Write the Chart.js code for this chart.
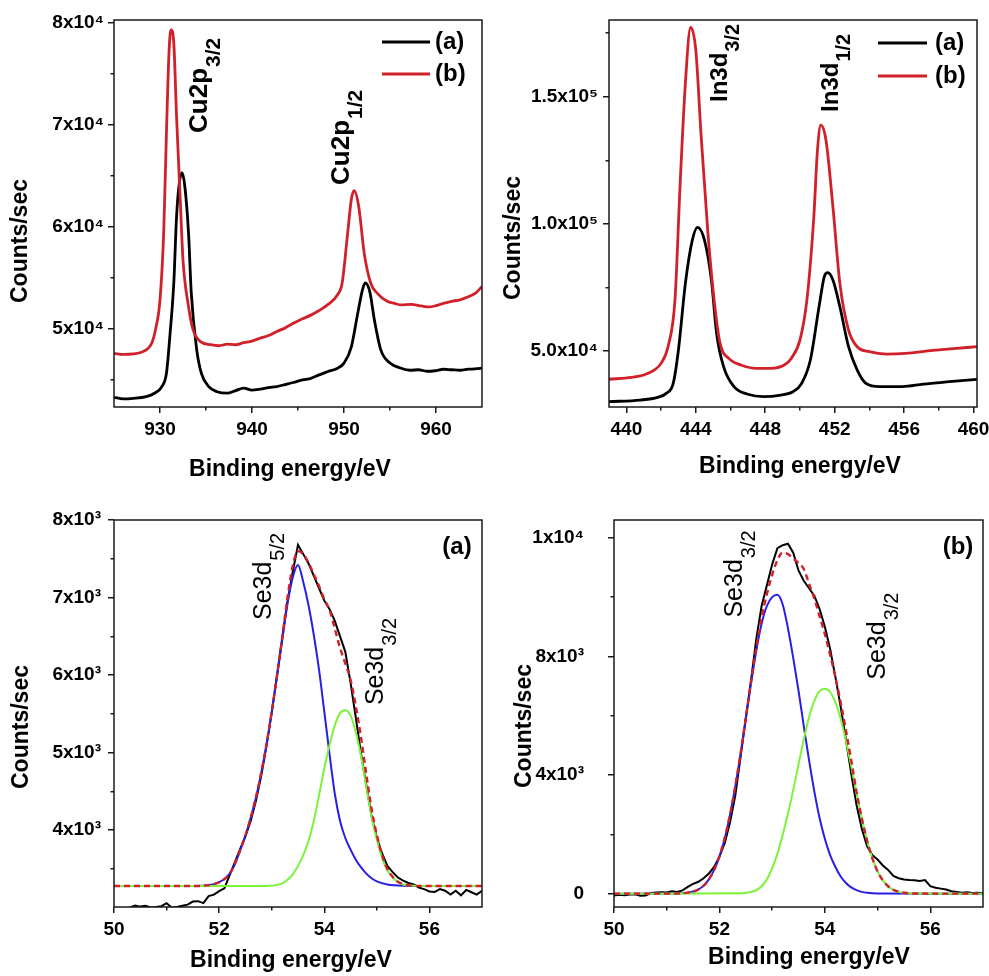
<!DOCTYPE html>
<html>
<head>
<meta charset="utf-8">
<title>XPS core-level spectra</title>
<script src="https://cdn.jsdelivr.net/npm/chart.js@4.4.1/dist/chart.umd.min.js"></script>
<style>
  body { margin: 0; background: #fff; }
  #wrap { position: relative; width: 989px; height: 976px; }
  #wrap canvas { position: absolute; left: 0; top: 0; }
</style>
</head>
<body>
<div id="wrap">
  <canvas id="cu-chart" width="989" height="976"></canvas>
  <canvas id="in-chart" width="989" height="976"></canvas>
  <canvas id="sea-chart" width="989" height="976"></canvas>
  <canvas id="seb-chart" width="989" height="976"></canvas>
</div>
<script>
'use strict';

// ---- Cu 2p ----
let cuEnergyA = [925.0, 926.0, 927.1, 928.5, 929.4, 930.2, 930.7, 931.1, 931.5, 931.8, 932.1, 932.4, 932.7, 933.1, 933.4, 934.0, 934.5, 935.3, 936.2, 937.3, 938.2, 939.1, 940.0, 940.9, 941.8, 942.7, 943.6, 944.5, 945.5, 946.4, 947.3, 948.2, 949.3, 950.0, 950.8, 951.5, 952.0, 952.3, 952.8, 953.3, 954.0, 955.0, 956.2, 957.2, 958.1, 959.0, 959.9, 960.8, 961.7, 962.6, 963.5, 965.0];
let cuCountsA = [43300, 43150, 43200, 43370, 43700, 44350, 45650, 49600, 54500, 61000, 64300, 65300, 63950, 59400, 53500, 47900, 45650, 44350, 43850, 43700, 43950, 44200, 44000, 44100, 44250, 44350, 44550, 44750, 45000, 45150, 45500, 45800, 46150, 46650, 48250, 51550, 53800, 54500, 53650, 50900, 47950, 46650, 46150, 45950, 46000, 45850, 45900, 46050, 46000, 45950, 46050, 46150];
let cuEnergyB = [925.0, 926.0, 927.1, 928.2, 929.1, 929.5, 930.0, 930.4, 930.7, 931.0, 931.2, 931.5, 931.8, 932.2, 932.5, 933.1, 933.6, 934.4, 935.5, 936.4, 937.3, 938.2, 939.1, 940.0, 940.9, 941.8, 942.7, 943.6, 944.5, 945.5, 946.4, 947.3, 948.2, 949.3, 949.8, 950.4, 950.8, 951.1, 951.6, 952.2, 952.9, 953.6, 954.7, 955.5, 956.2, 957.3, 958.4, 959.2, 959.9, 960.8, 961.7, 962.6, 963.5, 964.3, 965.0];
let cuCountsB = [47600, 47500, 47550, 47800, 48600, 49900, 52850, 59400, 69200, 77500, 79300, 78000, 70800, 62650, 56750, 52200, 49900, 48750, 48450, 48350, 48500, 48450, 48650, 48800, 49100, 49350, 49750, 50100, 50550, 51000, 51350, 51800, 52350, 53350, 54500, 59400, 62700, 63550, 62000, 57400, 54500, 53500, 52700, 52500, 52350, 52400, 52250, 52150, 52250, 52500, 52700, 52850, 53150, 53500, 54150];
let cuXTicks = [930, 940, 950, 960];
let cuXMinor = [935, 945, 955];
let cuYTicks = [50000, 60000, 70000, 80000];
let cuYText = ['5x10\u2074', '6x10\u2074', '7x10\u2074', '8x10\u2074'];
let cuYMinor = [45000, 55000, 65000, 75000];

// ---- In 3d ----
let inEnergyA = [439.0, 440.8, 441.8, 442.3, 442.7, 443.0, 443.4, 443.8, 444.1, 444.5, 444.9, 445.2, 445.6, 446.2, 447.0, 447.9, 448.9, 449.6, 450.1, 450.6, 451.1, 451.4, 451.6, 451.9, 452.3, 452.8, 453.3, 453.8, 454.6, 455.9, 457.1, 458.6, 460.2];
let inCountsA = [30090, 30740, 31800, 33360, 37300, 50400, 76600, 93600, 98600, 93600, 77900, 56900, 43840, 36000, 33000, 32050, 32700, 34000, 37300, 46460, 67400, 79200, 80800, 77900, 67400, 51700, 42500, 37300, 36000, 36000, 37000, 37950, 38900];
let inEnergyB = [439.0, 440.3, 441.0, 441.6, 442.0, 442.4, 442.8, 443.1, 443.4, 443.7, 444.0, 444.3, 444.7, 445.1, 445.4, 445.9, 446.6, 447.5, 448.3, 449.1, 449.5, 450.0, 450.4, 450.8, 451.0, 451.2, 451.5, 451.9, 452.3, 452.8, 453.3, 454.0, 455.0, 456.1, 457.5, 459.0, 460.2];
let inCountsB = [38900, 39650, 40570, 42500, 45150, 51700, 70000, 115900, 155200, 177200, 168300, 135500, 96200, 67400, 53000, 47100, 44500, 43200, 43200, 44500, 47100, 54300, 70000, 102800, 128000, 138800, 132900, 106700, 76600, 58250, 51700, 49740, 48800, 49100, 50130, 51050, 51700];
let inXTicks = [440, 444, 448, 452, 456, 460];
let inXMinor = [442, 446, 450, 454, 458];
let inYTicks = [50000, 100000, 150000];
let inYText = ['5.0x10\u2074', '1.0x10\u2075', '1.5x10\u2075'];
let inYMinor = [75000, 125000, 175000];

// ---- Se 3d, sample (a): measured + two components + envelope ----
let seaEnergy = [50.3, 50.4, 50.5, 50.6, 50.7, 50.8, 50.9, 51.0, 51.1, 51.2, 51.3, 51.4, 51.5, 51.6, 51.7, 51.8, 51.9, 52.0, 52.1, 52.2, 52.3, 52.4, 52.5, 52.6, 52.7, 52.8, 52.9, 53.0, 53.1, 53.2, 53.3, 53.4, 53.5, 53.6, 53.7, 53.8, 53.9, 54.0, 54.1, 54.2, 54.3, 54.4, 54.5, 54.6, 54.7, 54.8, 54.9, 55.0, 55.1, 55.2, 55.3, 55.4, 55.5, 55.6, 55.7, 55.8, 55.9, 56.0, 56.1, 56.2, 56.3, 56.4, 56.5, 56.6, 56.7, 56.8, 56.9, 57.0];
let seaCounts = [3000, 3030, 3015, 3025, 3005, 3010, 3020, 3060, 3000, 3010, 3025, 3040, 3080, 3085, 3060, 3150, 3170, 3215, 3250, 3420, 3590, 3760, 3920, 4120, 4380, 4700, 5080, 5520, 5990, 6480, 6950, 7330, 7680, 7560, 7440, 7280, 7120, 6960, 6850, 6700, 6500, 6300, 5900, 5450, 4980, 4580, 4180, 3900, 3700, 3540, 3460, 3390, 3350, 3320, 3300, 3260, 3240, 3210, 3205, 3240, 3220, 3170, 3220, 3160, 3230, 3200, 3170, 3220];
let seaBlueEnergy = [50.0, 51.5, 51.6, 51.7, 51.8, 51.9, 52.0, 52.1, 52.2, 52.3, 52.4, 52.5, 52.6, 52.7, 52.8, 52.9, 53.0, 53.1, 53.2, 53.3, 53.4, 53.5, 53.6, 53.7, 53.8, 53.9, 54.0, 54.1, 54.2, 54.3, 54.4, 54.5, 54.6, 54.7, 54.8, 54.9, 55.0, 55.2, 55.5, 57.0];
let seaBlueCounts = [3280, 3280, 3282, 3285, 3292, 3305, 3330, 3370, 3440, 3560, 3740, 3930, 4160, 4420, 4740, 5100, 5520, 5980, 6450, 6920, 7260, 7420, 7200, 6900, 6520, 6070, 5530, 4980, 4470, 4120, 3900, 3750, 3620, 3520, 3440, 3380, 3340, 3300, 3285, 3280];
let seaGreenEnergy = [50.0, 52.8, 52.9, 53.0, 53.1, 53.2, 53.3, 53.4, 53.5, 53.6, 53.7, 53.8, 53.9, 54.0, 54.1, 54.2, 54.3, 54.4, 54.5, 54.6, 54.7, 54.8, 54.9, 55.0, 55.1, 55.2, 55.3, 55.4, 55.5, 55.6, 55.8, 57.0];
let seaGreenCounts = [3280, 3280, 3282, 3285, 3295, 3315, 3360, 3430, 3540, 3680, 3860, 4120, 4450, 4800, 5100, 5350, 5510, 5548, 5480, 5260, 4950, 4560, 4170, 3880, 3640, 3480, 3390, 3330, 3300, 3290, 3282, 3280];
let seaFitEnergy = [50.0, 51.5, 51.8, 52.0, 52.2, 52.4, 52.6, 52.8, 53.0, 53.1, 53.2, 53.3, 53.4, 53.5, 53.6, 53.7, 53.8, 53.9, 54.0, 54.1, 54.2, 54.3, 54.4, 54.5, 54.6, 54.7, 54.8, 54.9, 55.0, 55.1, 55.2, 55.3, 55.4, 55.5, 55.6, 55.8, 57.0];
let seaFitCounts = [3280, 3280, 3292, 3330, 3440, 3740, 4160, 4740, 5525, 5995, 6485, 7000, 7410, 7600, 7560, 7450, 7300, 7150, 6980, 6840, 6600, 6350, 6150, 5940, 5600, 5190, 4720, 4270, 3940, 3680, 3500, 3400, 3335, 3305, 3290, 3282, 3280];
let seXTicks = [50, 52, 54, 56];
let seXMinor = [51, 53, 55];
let seaYTicks = [4000, 5000, 6000, 7000, 8000];
let seaYText = ['4x10\u00b3', '5x10\u00b3', '6x10\u00b3', '7x10\u00b3', '8x10\u00b3'];
let seaYMinor = [3500, 4500, 5500, 6500, 7500];

// ---- Se 3d, sample (b) ----
let sebEnergy = [50.0, 50.1, 50.2, 50.3, 50.4, 50.5, 50.6, 50.7, 50.8, 50.9, 51.0, 51.1, 51.2, 51.3, 51.4, 51.5, 51.6, 51.7, 51.8, 51.9, 52.0, 52.1, 52.2, 52.3, 52.4, 52.5, 52.6, 52.7, 52.8, 52.9, 53.0, 53.1, 53.2, 53.3, 53.4, 53.5, 53.6, 53.7, 53.8, 53.9, 54.0, 54.1, 54.2, 54.3, 54.4, 54.5, 54.6, 54.7, 54.8, 54.9, 55.0, 55.1, 55.2, 55.3, 55.4, 55.5, 55.6, 55.7, 55.8, 55.9, 56.0, 56.1, 56.2, 56.3, 56.4, 56.5, 56.6, 56.7, 56.8, 56.9, 57.0];
let sebCounts = [-60, -40, -50, -30, -20, -70, -60, 20, 40, 50, 40, 80, 60, 110, 230, 330, 400, 520, 680, 900, 1250, 1700, 2400, 3300, 4600, 5900, 7200, 8600, 9700, 10400, 11100, 11650, 11750, 11800, 11500, 10900, 10550, 10300, 10050, 9600, 9000, 8250, 7300, 6300, 5200, 4050, 3000, 2200, 1600, 1300, 1150, 950, 800, 600, 520, 480, 460, 450, 430, 460, 250, 200, 170, 140, 80, 60, 30, 50, 20, 30, 10];
let sebBlueEnergy = [50.0, 51.2, 51.4, 51.5, 51.6, 51.7, 51.8, 51.9, 52.0, 52.1, 52.2, 52.3, 52.4, 52.5, 52.6, 52.7, 52.8, 52.9, 53.0, 53.1, 53.2, 53.3, 53.4, 53.5, 53.6, 53.7, 53.8, 53.9, 54.0, 54.1, 54.2, 54.3, 54.4, 54.5, 54.6, 54.7, 54.8, 55.0, 57.0];
let sebBlueCounts = [0, 5, 30, 70, 140, 270, 480, 800, 1250, 1850, 2650, 3600, 4700, 5900, 7100, 8200, 9100, 9700, 10000, 10080, 9750, 8950, 7950, 6850, 5650, 4500, 3450, 2550, 1850, 1300, 900, 580, 360, 210, 120, 60, 30, 8, 0];
let sebGreenEnergy = [50.0, 52.4, 52.5, 52.6, 52.7, 52.8, 52.9, 53.0, 53.1, 53.2, 53.3, 53.4, 53.5, 53.6, 53.7, 53.8, 53.9, 54.0, 54.1, 54.2, 54.3, 54.4, 54.5, 54.6, 54.7, 54.8, 54.9, 55.0, 55.1, 55.2, 55.3, 55.4, 55.5, 55.7, 57.0];
let sebGreenCounts = [0, 10, 30, 60, 120, 250, 480, 850, 1350, 1980, 2700, 3500, 4350, 5200, 5950, 6500, 6830, 6910, 6800, 6450, 5900, 5150, 4300, 3400, 2550, 1800, 1200, 750, 450, 250, 130, 60, 25, 5, 0];
let sebFitEnergy = [50.0, 51.0, 51.4, 51.6, 51.8, 52.0, 52.2, 52.4, 52.5, 52.6, 52.7, 52.8, 52.9, 53.0, 53.1, 53.2, 53.3, 53.4, 53.5, 53.6, 53.7, 53.8, 53.9, 54.0, 54.1, 54.2, 54.3, 54.4, 54.5, 54.6, 54.7, 54.8, 54.9, 55.0, 55.1, 55.2, 55.3, 55.5, 55.7, 57.0];
let sebFitCounts = [0, 0, 35, 140, 480, 1260, 2660, 4720, 5930, 7150, 8300, 9300, 10100, 10750, 11250, 11500, 11450, 11300, 11150, 10950, 10450, 9950, 9350, 8750, 8050, 7300, 6450, 5500, 4500, 3450, 2550, 1800, 1200, 750, 450, 250, 130, 30, 5, 0];
let sebYTicks = [0, 4000, 8000, 12000];
let sebYText = ['0', '4x10\u00b3', '8x10\u00b3', '1x10\u2074'];
let sebYMinor = [2000, 6000, 10000];

const FONT = "'Liberation Sans', Arial, Helvetica, sans-serif";
const AXIS_COLOR = '#1a1a1a';
const BLACK = '#000000';
const RED = '#d2202a';
const BLUE = '#2a1ee6';
const GREEN = '#7cf23a';
const PAGE_W = 989;
const PAGE_H = 976;
const Y_BOX = 110;
const X_BOX = 60;

let panels = [
  {
    canvas: 'cu-chart',
    area: {l: 114, t: 20, r: 482, b: 407},
    xMin: 925, xMax: 965, xTicks: cuXTicks, xMinor: cuXMinor,
    yMin: 42350, yMax: 80260, yTicks: cuYTicks, yText: cuYText, yMinor: cuYMinor, yPad: 4,
    xTitle: [290, 470], yTitle: [21, 241],
    series: [
      {label: '(a)', x: cuEnergyA, y: cuCountsA, color: BLACK, width: 2.8, smooth: true, order: 2},
      {label: '(b)', x: cuEnergyB, y: cuCountsB, color: RED, width: 2.8, smooth: true, order: 1}
    ],
    legend: {x0: 382, x1: 430, tx: 435, ys: [42, 74]},
    peaks: [
      {x: 935.1, y: 69200, main: 'Cu2p', sub: '3/2'},
      {x: 950.5, y: 64100, main: 'Cu2p', sub: '1/2'}
    ],
    peakFont: {weight: 'bold', size: 26, sub: 21}
  },
  {
    canvas: 'in-chart',
    area: {l: 609, t: 20, r: 977, b: 407},
    xMin: 439, xMax: 460.2, xTicks: inXTicks, xMinor: inXMinor,
    yMin: 28000, yMax: 180150, yTicks: inYTicks, yText: inYText, yMinor: inYMinor, yPad: 5,
    xTitle: [800, 467], yTitle: [514, 238],
    series: [
      {label: '(a)', x: inEnergyA, y: inCountsA, color: BLACK, width: 2.8, smooth: true, order: 2},
      {label: '(b)', x: inEnergyB, y: inCountsB, color: RED, width: 2.8, smooth: true, order: 1}
    ],
    legend: {x0: 878, x1: 927, tx: 935, ys: [43, 76]},
    peaks: [
      {x: 445.8, y: 147900, main: 'In3d', sub: '3/2'},
      {x: 452.2, y: 144000, main: 'In3d', sub: '1/2'}
    ],
    peakFont: {weight: 'bold', size: 24, sub: 20}
  },
  {
    canvas: 'sea-chart',
    area: {l: 114, t: 520, r: 482, b: 907},
    xMin: 50, xMax: 57, xTicks: seXTicks, xMinor: seXMinor,
    yMin: 3010, yMax: 8000, yTicks: seaYTicks, yText: seaYText, yMinor: seaYMinor, yPad: 7,
    xTitle: [291, 961], yTitle: [22, 727],
    series: [
      {x: seaEnergy, y: seaCounts, color: BLACK, width: 2, smooth: false, order: 4},
      {x: seaBlueEnergy, y: seaBlueCounts, color: BLUE, width: 2, smooth: true, order: 3},
      {x: seaGreenEnergy, y: seaGreenCounts, color: GREEN, width: 2, smooth: true, order: 2},
      {x: seaFitEnergy, y: seaFitCounts, color: RED, width: 2.4, dash: [6, 4], smooth: true, order: 1}
    ],
    tag: {text: '(a)', x: 457, y: 547},
    peaks: [
      {x: 52.98, y: 6710, main: 'Se3d', sub: '5/2'},
      {x: 55.11, y: 5613, main: 'Se3d', sub: '3/2'}
    ],
    peakFont: {weight: 'normal', size: 25, sub: 20}
  },
  {
    canvas: 'seb-chart',
    area: {l: 614, t: 520, r: 983, b: 907},
    xMin: 50, xMax: 57, xTicks: seXTicks, xMinor: seXMinor,
    yMin: -450, yMax: 12600, yTicks: sebYTicks, yText: sebYText, yMinor: sebYMinor, yPad: 24,
    xTitle: [809, 958], yTitle: [525, 726],
    series: [
      {x: sebEnergy, y: sebCounts, color: BLACK, width: 2, smooth: false, order: 4},
      {x: sebBlueEnergy, y: sebBlueCounts, color: BLUE, width: 2, smooth: true, order: 3},
      {x: sebGreenEnergy, y: sebGreenCounts, color: GREEN, width: 2, smooth: true, order: 2},
      {x: sebFitEnergy, y: sebFitCounts, color: RED, width: 2.4, dash: [6, 4], smooth: true, order: 1}
    ],
    tag: {text: '(b)', x: 958, y: 547},
    peaks: [
      {x: 52.42, y: 9309, main: 'Se3d', sub: '3/2'},
      {x: 55.14, y: 7213, main: 'Se3d', sub: '3/2'}
    ],
    peakFont: {weight: 'normal', size: 25, sub: 20}
  }
];

function tickGrid(len) {
  return {drawOnChartArea: false, drawTicks: true, tickLength: len, color: AXIS_COLOR, lineWidth: 1.5};
}

function buildScales(p) {
  let tickFont = {family: FONT, size: 19, weight: 'bold'};
  return {
    x: {
      type: 'linear', position: 'bottom', weight: 1, min: p.xMin, max: p.xMax,
      grid: tickGrid(6), border: {display: false},
      afterBuildTicks: s => { s.ticks = p.xTicks.map(v => ({value: v})); },
      ticks: {font: tickFont, color: '#000', padding: 5, maxRotation: 0, autoSkip: false, callback: v => String(v)},
      afterFit: s => { s.height = X_BOX; s.paddingLeft = 0; s.paddingRight = 0; }
    },
    xMinor: {
      type: 'linear', position: 'bottom', weight: 0, min: p.xMin, max: p.xMax,
      grid: tickGrid(3.5), border: {display: false},
      afterBuildTicks: s => { s.ticks = p.xMinor.map(v => ({value: v})); },
      ticks: {display: false},
      afterFit: s => { s.height = 0; s.paddingLeft = 0; s.paddingRight = 0; }
    },
    y: {
      type: 'linear', position: 'left', weight: 1, min: p.yMin, max: p.yMax,
      grid: tickGrid(6), border: {display: false},
      afterBuildTicks: s => { s.ticks = p.yTicks.map(v => ({value: v})); },
      ticks: {font: tickFont, color: '#000', padding: p.yPad, autoSkip: false, callback: (v, i) => p.yText[i]},
      afterFit: s => { s.width = Y_BOX; s.paddingTop = 0; s.paddingBottom = 0; }
    },
    yMinor: {
      type: 'linear', position: 'left', weight: 0, min: p.yMin, max: p.yMax,
      grid: tickGrid(3.5), border: {display: false},
      afterBuildTicks: s => { s.ticks = p.yMinor.map(v => ({value: v})); },
      ticks: {display: false},
      afterFit: s => { s.width = 0; s.paddingTop = 0; s.paddingBottom = 0; }
    }
  };
}

// rotated peak name with a lowered subscript, reading bottom to top
function drawPeakName(ctx, px, py, lab, f) {
  ctx.save();
  ctx.translate(px, py);
  ctx.rotate(-Math.PI / 2);
  ctx.textAlign = 'left';
  ctx.textBaseline = 'alphabetic';
  ctx.font = f.weight + ' ' + f.size + 'px ' + FONT;
  ctx.fillText(lab.main, 0, 0);
  let w = ctx.measureText(lab.main).width;
  ctx.font = f.weight + ' ' + f.sub + 'px ' + FONT;
  ctx.fillText(lab.sub, w + 1, Math.round(f.size * 0.5));
  ctx.restore();
}

function decor(p) {
  return {
    id: 'decor',
    afterDraw(chart) {
      let ctx = chart.ctx;
      let a = chart.chartArea;
      let xs = chart.scales.x;
      let ys = chart.scales.y;
      ctx.save();
      ctx.strokeStyle = AXIS_COLOR;
      ctx.lineWidth = 1.5;
      ctx.strokeRect(a.left, a.top, a.right - a.left, a.bottom - a.top);

      ctx.fillStyle = '#000';
      ctx.textAlign = 'center';
      ctx.textBaseline = 'middle';
      ctx.font = 'bold 23px ' + FONT;
      ctx.fillText('Binding energy/eV', p.xTitle[0], p.xTitle[1]);
      ctx.save();
      ctx.translate(p.yTitle[0], p.yTitle[1]);
      ctx.rotate(-Math.PI / 2);
      ctx.fillText('Counts/sec', 0, 0);
      ctx.restore();

      if (p.legend) {
        let lg = p.legend;
        let shown = chart.data.datasets.filter(d => d.label);
        ctx.font = 'bold 24px ' + FONT;
        ctx.textAlign = 'left';
        shown.forEach((d, i) => {
          ctx.strokeStyle = d.borderColor;
          ctx.lineWidth = 3;
          ctx.beginPath();
          ctx.moveTo(lg.x0, lg.ys[i]);
          ctx.lineTo(lg.x1, lg.ys[i]);
          ctx.stroke();
          ctx.fillText(d.label, lg.tx, lg.ys[i]);
        });
      }

      if (p.tag) {
        ctx.font = 'bold 24px ' + FONT;
        ctx.textAlign = 'center';
        ctx.fillText(p.tag.text, p.tag.x, p.tag.y);
      }

      p.peaks.forEach(lab => {
        drawPeakName(ctx, xs.getPixelForValue(lab.x), ys.getPixelForValue(lab.y), lab, p.peakFont);
      });
      ctx.restore();
    }
  };
}

function buildChart(p) {
  let datasets = p.series.map(s => ({
    label: s.label || '',
    data: s.x.map((e, i) => ({x: e, y: s.y[i]})),
    borderColor: s.color,
    borderWidth: s.width,
    borderDash: s.dash || [],
    cubicInterpolationMode: s.smooth ? 'monotone' : 'default',
    tension: s.smooth ? 0.4 : 0,
    pointRadius: 0,
    fill: false,
    order: s.order,
    xAxisID: 'x',
    yAxisID: 'y'
  }));

  return new Chart(document.getElementById(p.canvas), {
    type: 'line',
    data: {datasets: datasets},
    options: {
      responsive: false,
      animation: false,
      devicePixelRatio: 1,
      events: [],
      layout: {
        autoPadding: false,
        padding: {
          left: p.area.l - Y_BOX,
          top: p.area.t,
          right: PAGE_W - p.area.r,
          bottom: PAGE_H - p.area.b - X_BOX
        }
      },
      plugins: {legend: {display: false}, tooltip: {enabled: false}},
      scales: buildScales(p)
    },
    plugins: [decor(p)]
  });
}

panels.forEach(buildChart);
</script>
</body>
</html>
